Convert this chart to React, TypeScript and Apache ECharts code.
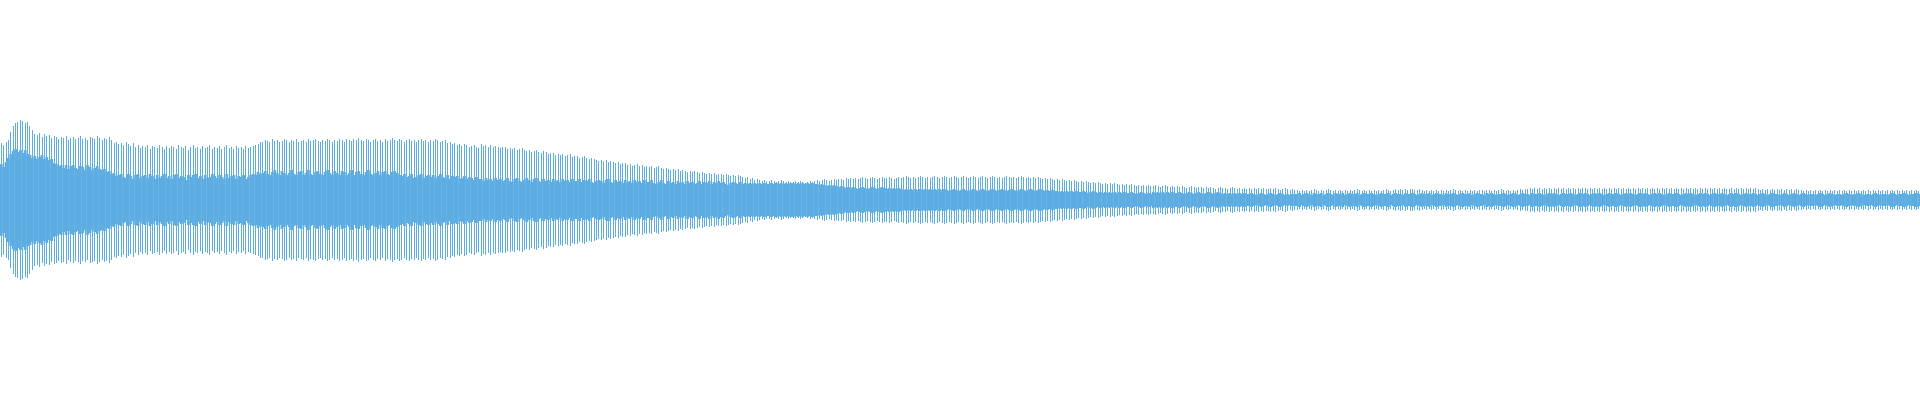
import React, { useEffect, useRef } from "react";
import * as echarts from "echarts";

// Outer (peak) amplitude of each sample bin, symmetric about zero
const outerAmp: number[] = [
  57,55,58,60,68,74,77,78,80,79, 77,78,74,70,66,65,67,63,66,64,
  65,62,64,63,61,63,62,64,60,62, 63,61,62,64,61,62,60,63,62,61,
  64,62,60,62,61,63,60,57,58,56, 57,55,58,56,54,57,53,55,52,54,
  53,55,51,54,53,52,55,53,51,54, 52,54,53,51,55,53,52,54,50,53,
  55,52,53,51,54,52,53,55,51,53, 52,54,51,53,55,52,53,51,54,52,
  53,51,54,52,53,54,55,56,58,58, 60,59,58,61,59,60,58,59,61,60,
  58,60,59,61,58,59,60,58,61,59, 60,61,59,58,60,59,61,60,58,60,
  59,61,60,58,61,60,59,61,60,62, 60,59,61,60,58,60,61,59,60,58,
  61,59,60,62,60,59,61,60,58,60, 61,59,60,58,60,61,59,60,58,60,
  59,61,60,58,59,60,57,58,56,57, 55,56,54,56,55,53,54,55,53,52,
  56,54,55,53,55,53,54,53,52,53, 53,51,52,51,52,50,51,52,50,49,
  50,48,49,50,48,47,49,48,46,47, 47,45,46,45,46,44,45,46,43,44,
  44,42,43,44,42,41,42,41,40,39, 40,39,40,38,39,38,37,38,36,37,
  37,35,36,34,35,36,34,35,33,34, 33,34,32,33,34,32,31,32,31,30,
  31,30,31,29,30,29,28,29,28,29, 28,27,28,27,26,27,26,27,25,26,
  26,25,26,25,24,25,24,25,24,23, 22,23,21,22,20,21,20,19,20,19,
  19,20,19,18,19,20,19,18,19,18, 18,19,18,19,18,17,18,19,18,19,
  20,19,20,21,20,19,20,21,20,21, 21,20,22,21,22,21,22,21,22,23,
  22,21,22,23,22,21,22,23,22,22, 23,22,21,22,23,22,23,24,23,22,
  23,22,23,24,23,22,23,22,23,24, 23,22,23,24,23,22,23,24,23,22,
  23,24,23,22,23,24,23,22,23,24, 23,22,23,24,23,22,23,22,23,24,
  23,22,23,22,23,24,23,22,23,22, 23,22,23,22,21,22,21,22,21,20,
  21,20,21,20,19,20,19,20,19,18, 19,18,19,18,17,18,17,18,17,16,
  17,16,17,16,17,16,15,16,15,16, 15,16,15,14,15,14,15,14,15,14,
  14,15,14,13,14,15,14,13,14,13, 14,13,14,13,12,13,14,13,12,13,
  13,12,13,12,13,12,11,12,13,12, 12,11,12,13,12,11,12,11,12,11,
  12,11,12,11,12,11,12,11,11,12, 11,12,11,10,11,12,11,10,11,10,
  10,9,10,9,10,9,10,11,10,9, 10,9,10,11,10,9,10,9,10,9,
  10,9,10,9,10,11,10,9,10,9, 10,9,10,9,10,9,10,11,10,9,
  10,11,10,11,10,11,10,11,11,10, 10,11,10,9,10,9,10,9,10,9,
  10,9,10,9,10,11,10,9,10,9, 10,9,10,9,10,9,10,10,9,10,
  10,9,10,9,10,11,10,9,10,9, 10,9,10,11,10,11,11,12,11,12,
  11,12,11,12,11,12,11,12,11,12, 11,12,11,12,11,12,11,12,11,12,
  12,11,12,11,12,11,12,11,12,11, 12,11,12,11,12,11,12,11,12,11,
  12,11,12,11,12,11,12,11,12,11, 12,11,12,11,12,11,12,11,12,11,
  12,11,12,11,12,11,12,11,12,11, 12,11,12,11,12,11,12,11,12,11,
  11,12,11,12,11,12,11,12,11,12, 11,12,11,10,11,10,11,10,11,10,
  11,10,11,10,11,10,11,10,11,10, 10,9,10,9,10,9,10,9,10,9,
  10,9,10,9,10,9,10,9,10,9, 10,9,10,9,10,9,10,9,10,9,
  10,9,10,9,10,9,10,9,10,9, 10,9,10,9,10,9,10,9,10,9,
];

// Inner (dense body) amplitude of each sample bin
const innerAmp: number[] = [
  36,33,38,42,46,49,51,48,50,47, 50,46,45,42,44,41,43,45,41,43,
  40,41,37,36,34,35,32,35,31,34, 35,32,31,34,33,30,35,33,30,32,
  34,31,30,31,28,29,26,27,24,25, 26,23,22,26,24,21,25,26,22,24,
  25,22,26,24,21,25,22,24,26,22, 24,21,25,26,22,24,23,20,25,23,
  25,26,22,24,21,25,22,23,26,24, 22,25,23,21,26,22,24,25,21,24,
  23,25,21,23,25,26,25,28,26,27, 29,26,25,28,30,27,25,29,27,25,
  27,30,26,25,28,29,25,27,30,26, 25,28,29,26,25,28,30,27,25,29,
  27,25,29,28,25,27,30,25,28,29, 26,25,28,30,26,25,27,29,25,28,
  29,26,25,28,29,27,25,24,26,23, 24,26,22,23,25,26,22,24,25,23,
  25,22,24,26,23,22,25,21,24,23, 24,21,22,24,21,23,22,20,23,21,
  21,19,22,20,21,19,22,20,21,19, 20,22,19,18,21,22,19,18,20,22,
  20,18,21,22,19,18,21,19,20,18, 21,19,20,18,21,19,20,18,21,19,
  19,21,18,20,19,21,18,17,19,20, 19,17,20,21,18,17,20,18,19,17,
  20,18,19,17,20,18,19,17,20,18, 18,20,17,16,18,20,17,16,19,17,
  18,16,19,17,18,16,19,17,18,16, 17,19,16,18,17,19,16,18,17,19,
  17,18,16,15,17,18,17,16,18,16, 17,16,17,16,17,16,17,16,17,16,
  16,17,16,17,16,17,16,17,16,17, 17,16,17,16,17,16,17,16,17,16,
  16,15,16,15,14,15,14,15,14,13, 14,13,12,13,12,13,12,11,12,13,
  12,11,12,13,12,11,12,13,12,11, 12,11,12,11,12,11,10,11,10,11,
  10,11,10,11,10,11,10,11,10,11, 10,11,10,11,10,9,10,11,10,9,
  10,11,10,9,10,11,10,9,10,11, 10,9,10,11,10,9,10,11,10,9,
  10,11,10,9,10,11,10,9,10,11, 10,9,10,11,10,9,10,9,10,9,
  9,8,9,8,9,8,9,8,9,8, 8,9,8,7,8,9,8,7,8,7,
  8,7,8,7,8,7,8,7,8,7, 7,8,7,6,7,8,7,6,7,6,
  8,7,8,7,8,7,8,7,8,7, 7,8,7,6,7,8,7,6,7,8,
  7,6,7,8,7,6,7,8,7,6, 7,6,7,6,7,6,7,6,7,6,
  6,7,6,5,6,7,6,5,6,7, 6,5,6,7,6,5,6,5,6,6,
  6,7,5,6,7,6,5,7,6,6, 7,5,6,7,6,5,7,6,6,7,
  5,6,7,6,6,7,5,6,7,6, 6,7,6,5,6,7,6,6,7,5,
  6,7,6,6,5,7,6,6,7,6, 5,6,7,6,6,7,5,6,7,6,
  6,5,7,6,6,7,6,5,6,7, 6,6,7,5,6,7,6,6,5,7,
  6,7,6,5,6,6,7,6,5,6, 7,6,5,6,7,6,6,5,7,6,
  6,7,6,5,6,7,6,7,6,5, 6,7,6,6,7,6,5,6,7,6,
  7,6,5,6,7,6,7,6,5,6, 7,6,6,7,6,5,6,7,6,7,
  6,5,6,7,6,7,6,5,6,7, 6,7,6,5,6,7,6,6,7,6,
  5,6,7,6,7,6,5,6,7,6, 7,6,5,6,7,6,6,7,6,5,
  6,7,6,7,6,5,6,7,6,6, 7,6,5,6,7,6,5,6,7,6,
  6,5,6,7,6,5,6,7,6,5, 6,7,6,5,6,6,5,6,7,6,
  5,6,7,6,5,6,6,5,6,7, 6,5,6,6,7,6,5,6,6,5,
  6,7,6,5,6,6,5,6,7,6, 5,6,6,7,6,5,6,6,7,6,
];

const categories: string[] = outerAmp.map((_, i) => String(i));

const COLOR = "#5dade2";

export default function App() {
  const ref = useRef<HTMLDivElement | null>(null);

  useEffect(() => {
    if (!ref.current) return;
    const chart = echarts.init(ref.current, undefined, { renderer: "svg" });
    const data = categories.map((c, i) => [i, outerAmp[i], innerAmp[i]]);

    chart.setOption({
      animation: false,
      backgroundColor: "#ffffff",
      grid: { left: 0, right: 0, top: 0, bottom: 0, containLabel: false },
      xAxis: {
        type: "category",
        data: categories,
        show: false,
        boundaryGap: true,
      },
      yAxis: {
        type: "value",
        min: -200,
        max: 200,
        show: false,
      },
      series: [
        {
          type: "custom",
          data,
          encode: { x: 0, y: [1, 2] },
          renderItem: (params: any, api: any) => {
            const idx = api.value(0);
            const o = api.value(1);
            const n = api.value(2);
            const band = api.size([1, 0])[0];
            const top = api.coord([idx, o]);
            const bot = api.coord([idx, -o]);
            const itop = api.coord([idx, n]);
            const ibot = api.coord([idx, -n]);
            const ox = Math.round(top[0] - 0.5);
            const iw = band + 0.4;
            return {
              type: "group",
              children: [
                {
                  type: "rect",
                  shape: {
                    x: ox,
                    y: Math.round(top[1]),
                    width: 1,
                    height: Math.round(bot[1]) - Math.round(top[1]),
                  },
                  style: { fill: COLOR },
                },
                {
                  type: "rect",
                  shape: { x: itop[0] - iw / 2, y: itop[1], width: iw, height: ibot[1] - itop[1] },
                  style: { fill: COLOR },
                },
              ],
            };
          },
        },
      ],
    });

    return () => {
      chart.dispose();
    };
  }, []);

  return (
    <div
      ref={ref}
      style={{ position: "absolute", left: 0, top: 0, width: 1920, height: 400 }}
    />
  );
}
